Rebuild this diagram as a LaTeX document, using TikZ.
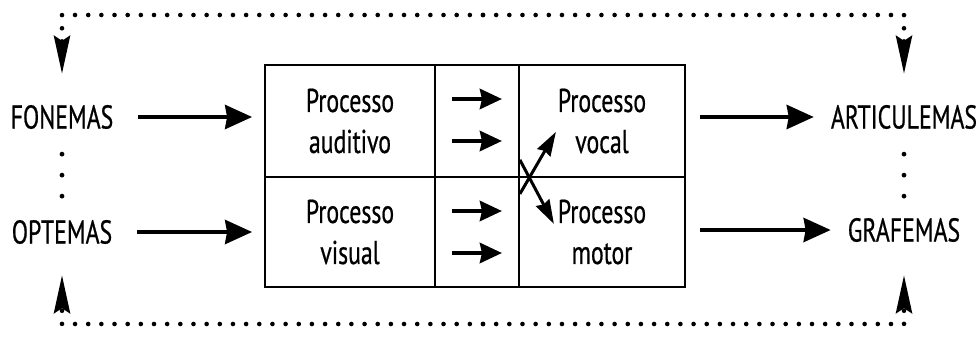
\documentclass[tikz,border=0pt]{standalone}
\usepackage{fontspec}
\setmainfont{PT Sans}[FakeStretch=0.72, FakeBold=0.6]
\usetikzlibrary{arrows.meta}
\begin{document}
\begin{tikzpicture}[x=1pt,y=-1pt,
  every node/.style={font=\fontsize{33}{42}\selectfont, inner sep=3pt},
  label/.style={anchor=center},
  cell/.style={draw, line width=1.8pt, minimum height=#1, inner sep=0pt, anchor=center},
  bigarrow/.style={line width=4pt, -{Stealth[length=27pt,width=24pt,inset=2pt]}},
  smallarrow/.style={line width=4.4pt, -{Stealth[length=22pt,width=20pt,inset=2pt]}},
  crossarrow/.style={line width=3pt, -{Stealth[length=24pt,width=15pt,inset=2pt]}},
  dotline/.style={line width=4.6pt, line cap=round, dash pattern=on 0pt off 13.16pt},
  dotgap/.style={line width=4.8pt, line cap=round, dash pattern=on 0pt off 21pt},
  vhead/.style={-{Stealth[length=38pt,width=16pt,inset=5pt]}}
]
\useasboundingbox (0,0) rectangle (980,340);

% labels on both sides
\node[label] (fon) at (62,117) {FONEMAS};
\node[label] (opt) at (62,232) {OPTEMAS};
\node[label] (art) at (904,117) {ARTICULEMAS};
\node[label] (gra) at (904,230) {GRAFEMAS};

% the six cells of the central block
\node[cell=112pt, minimum width=170pt, align=center] (aud) at (350,121) {Processo\\[-1pt]auditivo};
\node[cell=112pt, minimum width=84pt] (mid1) at (477,121) {};
\node[cell=112pt, minimum width=166pt, align=center] (voc) at (602,121) {Processo\\[-1pt]vocal};
\node[cell=110pt, minimum width=170pt, align=center] (vis) at (350,232) {Processo\\[-1pt]visual};
\node[cell=110pt, minimum width=84pt] (mid2) at (477,232) {};
\node[cell=110pt, minimum width=166pt, align=center] (mot) at (602,232) {Processo\\[-1pt]motor};

% inputs and outputs
\draw[bigarrow, shorten <=22pt, shorten >=12pt] (fon.east) -- (fon.east -| aud.west);
\draw[bigarrow, shorten <=22pt, shorten >=12pt] (opt.east) -- (opt.east -| vis.west);
\draw[bigarrow, shorten <=14pt, shorten >=14pt] (art.west -| voc.east) -- (art.west);
\draw[bigarrow, shorten <=14pt, shorten >=14pt] (gra.west -| mot.east) -- (gra.west);

% arrows in the middle column
\draw[smallarrow] ([shift={(-25,-22)}]mid1.center) -- ([shift={(25,-22)}]mid1.center);
\draw[smallarrow] ([shift={(-25,20)}]mid1.center) -- ([shift={(25,20)}]mid1.center);
\draw[smallarrow] ([shift={(-25,-21)}]mid2.center) -- ([shift={(25,-21)}]mid2.center);
\draw[smallarrow] ([shift={(-25,21)}]mid2.center) -- ([shift={(25,21)}]mid2.center);

% crossing arrows
\draw[crossarrow] ([shift={(0,16)}]mid1.south east) -- ([shift={(36,-46)}]mid1.south east);
\draw[crossarrow] ([shift={(0,-18)}]mid1.south east) -- ([shift={(34,46)}]mid1.south east);

% dotted feedback loops, each drawn from its middle towards a label
\coordinate (topc) at (483,15);
\coordinate (botc) at (483,324);
\draw[dotline, vhead, shorten >=28pt] (topc) -| (fon.north);
\draw[dotline, vhead, shorten >=28pt] (topc) -| (art.north);
\draw[dotline, vhead, shorten >=28pt] (botc) -| (opt.south);
\draw[dotline, vhead, shorten >=30pt] (botc) -| (gra.south);

% dots between the paired labels
\draw[dotgap, shorten <=22pt, shorten >=8pt] (fon.south) -- (opt.north);
\draw[dotgap, shorten <=22pt, shorten >=8pt] (art.south) -- (gra.north);
\end{tikzpicture}
\end{document}
